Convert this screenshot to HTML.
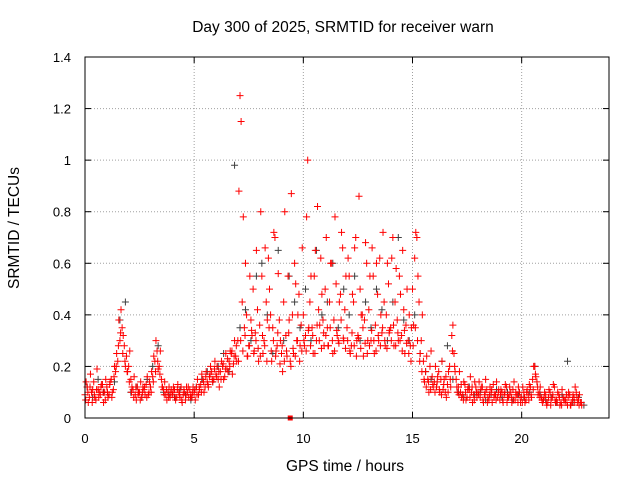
<!DOCTYPE html>
<html><head><meta charset="utf-8"><style>
body{margin:0;background:#fff;}
svg{display:block;font-family:"Liberation Sans",sans-serif;}
</style></head><body>
<svg id="chart" width="640" height="480">
<text x="343" y="32" text-anchor="middle" font-size="15.5">Day 300 of 2025, SRMTID for receiver warn</text>
<text x="345" y="471" text-anchor="middle" font-size="15.5">GPS time / hours</text>
<text transform="translate(19,228) rotate(-90)" text-anchor="middle" font-size="15.5">SRMTID / TECUs</text>
<g id="grid"></g>
<g id="ticks"></g>
<g id="marks"></g>
<rect x="85" y="57" width="524" height="361" fill="none" stroke="#000" stroke-width="1"/>
</svg>
<script>
const xTicks=[0,5,10,15,20];
const yTicks=[0,0.2,0.4,0.6,0.8,1,1.2,1.4];
const yTickLabels=["0","0.2","0.4","0.6","0.8","1","1.2","1.4"];
const redStart=0, redStep=0.1;
const redA=[.09,.12,.08,.10,.14,.07,.11,.09,.13,.10,
.12,.09,.15,.11,.18,.22,.30,.35,.28,.24,
.20,.15,.11,.09,.12,.10,.08,.11,.13,.09,
.12,.16,.22,.26,.20,.15,.11,.09,.10,.08,
.09,.11,.08,.10,.12,.09,.07,.10,.11,.08,
.10,.12,.09,.13,.15,.12,.14,.16,.18,.15,
.17,.15,.18,.20,.16,.19,.22,.25,.21,.24,
.30,1.25,.45,.35,.40,.28,.38,.50,.33,.42,
.36,.55,.30,.45,.62,.40,.35,.70,.28,.38,
.25,.45,.32,.55,.22,.40,.60,.30,.48,.36,
.40,.32,1.00,.45,.35,.55,.30,.42,.62,.38,
.50,.35,.45,.60,.38,.52,.30,.48,.66,.42,
.35,.55,.28,.45,.70,.32,.50,.40,.38,.60,
.42,.30,.55,.36,.48,.62,.33,.45,.40,.52,
.35,.70,.45,.38,.55,.32,.42,.36,.30,.28,
.50,.62,.70,.45,.30,.22,.18,.15,.20,.16,
.14,.12,.18,.15,.11,.10,.13,.20,.32,.25,
.15,.12,.10,.09,.13,.08,.11,.10,.09,.12,
.10,.08,.12,.09,.11,.07,.10,.13,.09,.08,
.07,.10,.09,.12,.08,.10,.11,.07,.09,.10,
.08,.10,.07,.09,.12,.15,.20,.14,.10,.08,
.07,.09,.06,.10,.08,.12,.07,.09,.06,.08,
.07,.05,.09,.06,.08,.10,.07,.06];
const redBStart=0.05;
const redB=[.14,.06,.17,.11,.08,.19,.10,.13,.06,.15,
.08,.14,.10,.20,.25,.38,.42,.32,.20,.18,
.26,.12,.16,.07,.10,.14,.12,.09,.16,.14,
.18,.24,.30,.19,.26,.12,.14,.07,.12,.11,
.12,.07,.13,.08,.06,.10,.12,.08,.09,.12,
.07,.15,.11,.17,.10,.18,.12,.20,.14,.22,
.20,.12,.22,.15,.25,.18,.26,.17,.30,.22,
.88,1.15,.78,.60,.24,.55,.32,.26,.65,.22,
.80,.25,.66,.38,.50,.22,.72,.26,.56,.30,
.18,.80,.24,.38,.87,.25,.52,.40,.28,.66,
.28,.78,.35,.55,.25,.65,.82,.36,.48,.28,
.70,.28,.60,.25,.78,.32,.45,.72,.30,.55,
.62,.25,.48,.66,.30,.86,.40,.24,.68,.30,
.55,.66,.25,.60,.30,.40,.72,.28,.60,.34,
.62,.28,.58,.30,.48,.65,.25,.50,.40,.35,
.36,.72,.55,.25,.40,.14,.24,.10,.26,.12,
.20,.16,.10,.22,.15,.08,.18,.12,.36,.18,
.10,.18,.08,.14,.07,.12,.16,.06,.14,.08,
.14,.12,.06,.15,.08,.12,.06,.09,.14,.11,
.11,.06,.13,.08,.12,.06,.14,.09,.12,.06,
.12,.06,.11,.13,.08,.20,.16,.09,.12,.06,
.10,.05,.11,.07,.13,.06,.10,.05,.11,.07,
.09,.10,.05,.09,.12,.06,.09,.05];
const redCStart=0.03;
const redC=[.07,.10,.12,.06,.09,.11,.08,.12,.10,.07,
.10,.13,.08,.16,.20,.28,.33,.25,.22,.18,
.14,.10,.08,.12,.09,.07,.10,.12,.08,.10,
.10,.14,.18,.22,.17,.12,.09,.11,.08,.10,
.10,.08,.11,.09,.07,.11,.09,.12,.08,.10,
.11,.09,.12,.10,.14,.16,.13,.17,.15,.19,
.16,.18,.15,.21,.19,.23,.20,.26,.24,.28,
.22,.30,.26,.32,.24,.28,.34,.25,.30,.27,
.24,.32,.28,.22,.35,.26,.30,.24,.33,.21,
.28,.22,.26,.33,.20,.27,.24,.30,.22,.26,
.30,.26,.34,.28,.32,.25,.36,.30,.27,.33,
.32,.28,.35,.30,.26,.34,.29,.38,.31,.27,
.30,.26,.33,.28,.24,.31,.27,.35,.29,.25,
.28,.34,.30,.26,.32,.28,.35,.30,.27,.33,
.30,.36,.28,.33,.30,.26,.34,.29,.25,.22,
.28,.35,.30,.22,.18,.15,.12,.14,.11,.13,
.10,.14,.11,.09,.13,.16,.10,.15,.26,.20,
.12,.09,.13,.07,.10,.11,.08,.12,.07,.10,
.09,.11,.07,.10,.06,.09,.11,.08,.07,.10,
.09,.07,.10,.06,.09,.08,.07,.10,.06,.08,
.06,.08,.10,.07,.09,.11,.17,.12,.08,.07,
.08,.06,.08,.05,.09,.07,.06,.08,.05,.07,
.06,.08,.05,.07,.06,.08,.05,.06];
const blackStart=0.1, blackStep=0.25;
const black=[.12,.08,.15,.10,.09,.14,.38,.45,
.10,.12,.08,.15,.20,.28,.10,.09,
.08,.11,.09,.07,.12,.15,.18,.14,
.20,.25,.18,.98,.35,.42,.30,.55,
.60,.40,.25,.65,.30,.55,.45,.35,
.50,.30,.65,.40,.45,.60,.35,.50,
.40,.55,.30,.45,.35,.50,.42,.30,
.45,.70,.38,.30,.40,.25,.18,.15,
.12,.22,.28,.15,.10,.08,.12,.09,
.10,.07,.09,.11,.08,.10,.07,.09,
.08,.10,.20,.09,.07,.08,.06,.09,
.22,.06,.08,.05];
const squareT=[9.4], squareV=[0];

const X0=85,X1=609,Y0=418,Y1=57,XMAX=24,YMAX=1.4;
const sx=t=>X0+(t/XMAX)*(X1-X0);
const sy=v=>Y0-(v/YMAX)*(Y0-Y1);
const NS="http://www.w3.org/2000/svg";
const grid=document.getElementById('grid'),ticks=document.getElementById('ticks'),marks=document.getElementById('marks');
function mk(tag,attrs,parent){const e=document.createElementNS(NS,tag);for(const k in attrs)e.setAttribute(k,attrs[k]);parent.appendChild(e);return e;}
xTicks.forEach(t=>{
  const x=sx(t);
  if(t>0){const g=mk('line',{x1:x,x2:x,y1:Y1,y2:Y0,stroke:'#a0a0a0','stroke-dasharray':'1,2'},grid);
  
  }
  mk('line',{x1:x,x2:x,y1:Y0,y2:Y0-6,stroke:'#000'},ticks);
  mk('line',{x1:x,x2:x,y1:Y1,y2:Y1+6,stroke:'#000'},ticks);
  const l=mk('text',{x:x,y:443,'text-anchor':'middle','font-size':'13'},ticks);l.textContent=t;
  
  
});
yTicks.forEach((v,i)=>{
  const y=sy(v);
  if(v>0&&v<YMAX){const g=mk('line',{x1:X0,x2:X1,y1:y,y2:y,stroke:'#a0a0a0','stroke-dasharray':'1,2'},grid);
  
  }
  mk('line',{x1:X0,x2:X0+6,y1:y,y2:y,stroke:'#000'},ticks);
  mk('line',{x1:X1,x2:X1-6,y1:y,y2:y,stroke:'#000'},ticks);
  const l=mk('text',{x:71,y:y+5,'text-anchor':'end','font-size':'13'},ticks);l.textContent=yTickLabels[i];
  
  
});
function plus(t,v,col,name){
  const x=sx(t),y=sy(v);
  const p=mk('path',{d:`M${x-3.5},${y}h7M${x},${y-3.5}v7`,stroke:col,'stroke-width':1,fill:'none'},marks);
  
  
}
black.forEach((v,i)=>plus(blackStart+i*blackStep,v,'#404040','black-point'));
redC.forEach((v,i)=>plus(redCStart+i*redStep,v,'#f00','red-point'));
redA.forEach((v,i)=>plus(redStart+i*redStep,v,'#f00','red-point'));
redB.forEach((v,i)=>plus(redBStart+i*redStep,v,'#f00','red-point'));
squareT.forEach((t,i)=>{
  const r=mk('rect',{x:sx(t)-2.5,y:sy(squareV[i])-2.5,width:5,height:5,fill:'#f00'},marks);
  
  
});
</script>
</body></html>
